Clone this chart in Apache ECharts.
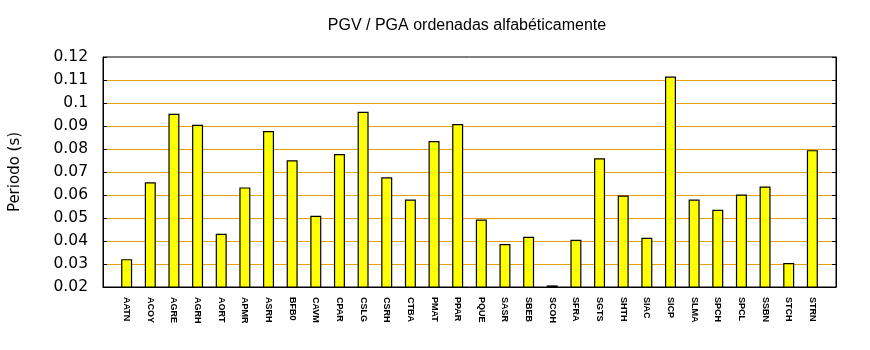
<!DOCTYPE html>
<html>
<head>
<meta charset="utf-8">
<script src="https://cdn.jsdelivr.net/npm/echarts@6/dist/echarts.min.js"></script>
<style>
  html, body { margin: 0; padding: 0; background: #fff; }
  #chart { width: 870px; height: 350px; }
</style>
</head>
<body>
<div id="chart"></div>
<script>
// Station codes, in alphabetical order
const stations = ['AATN', 'ACOY', 'AGRE', 'AGRH', 'AORT', 'APMR', 'ASRH', 'BFB0', 'CAVM', 'CPAR',
  'CSLG', 'CSRH', 'CTBA', 'PMAT', 'PPAR', 'PQUE', 'SASR', 'SBEB', 'SCOH', 'SFRA',
  'SGTS', 'SHTH', 'SIAC', 'SICP', 'SLMA', 'SPCH', 'SPCL', 'SSBN', 'STCH', 'STRN'];

// PGV / PGA ratio per station (s)
const periods = [0.0321, 0.0655, 0.0953, 0.0905, 0.0431, 0.0633, 0.0878, 0.0751, 0.0510, 0.0778,
  0.0962, 0.0677, 0.0580, 0.0835, 0.0909, 0.0493, 0.0387, 0.0418, 0.0207, 0.0405,
  0.0760, 0.0598, 0.0414, 0.1115, 0.0580, 0.0536, 0.0602, 0.0637, 0.0304, 0.0795];

// Y axis tick range
const yTicks = { min: 0.02, max: 0.12, step: 0.01 };

const chart = echarts.init(document.getElementById('chart'), null, { renderer: 'canvas' });

const gridColor = '#e6a00a';
const fmt = v => String(parseFloat(v.toFixed(2)));

chart.setOption({
  animation: false,
  backgroundColor: '#ffffff',
  title: {
    text: 'PGV / PGA ordenadas alfabéticamente',
    left: 462, top: 13, textAlign: 'center',
    textStyle: { fontFamily: 'Liberation Sans', fontSize: 16, fontWeight: 'normal', color: '#000' }
  },
  grid: {
    left: 101, right: 34, top: 57, bottom: 63,
    show: true, borderColor: '#000', borderWidth: 1, backgroundColor: 'transparent'
  },
  xAxis: {
    type: 'value',
    min: -1, max: stations.length,
    interval: 1,
    axisLine: { show: true, onZero: false, lineStyle: { color: '#000', width: 1 } },
    axisTick: { show: false },
    splitLine: { show: false },
    axisLabel: {
      rotate: -90,
      margin: 10,
      fontFamily: 'Liberation Sans', fontSize: 9, fontWeight: 'bold', color: '#000',
      formatter: v => (Number.isInteger(v) && v >= 0 && v < stations.length) ? stations[v] : '',
      showMinLabel: false, showMaxLabel: false
    }
  },
  yAxis: [{
    type: 'value',
    min: yTicks.min, max: yTicks.max, interval: yTicks.step,
    name: 'Periodo (s)',
    nameLocation: 'middle', nameGap: 80, nameRotate: 90,
    nameTextStyle: { fontFamily: 'DejaVu Sans', fontSize: 15, color: '#000' },
    axisLine: { show: true, onZero: false, lineStyle: { color: '#000', width: 1 } },
    axisTick: { show: true, inside: true, length: 4, lineStyle: { color: '#000' } },
    splitLine: { show: true, showMinLine: false, showMaxLine: false,
      lineStyle: { color: gridColor, width: 1, opacity: 1 } },
    axisLabel: {
      margin: 15,
      fontFamily: 'DejaVu Sans', fontSize: 15.5, color: '#000',
      formatter: fmt
    }
  }, {
    type: 'value', position: 'right',
    min: yTicks.min, max: yTicks.max, interval: yTicks.step,
    axisLine: { show: true, onZero: false, lineStyle: { color: '#000', width: 1 } },
    axisTick: { show: true, inside: true, length: 4, lineStyle: { color: '#000' } },
    splitLine: { show: false },
    axisLabel: { show: false }
  }],
  series: [{
    type: 'bar',
    data: periods.map((v, i) => [i, v]),
    barWidth: 11,
    itemStyle: { color: '#ffff00', borderColor: '#000', borderWidth: 1.2 }
  }]
});
</script>
</body>
</html>
